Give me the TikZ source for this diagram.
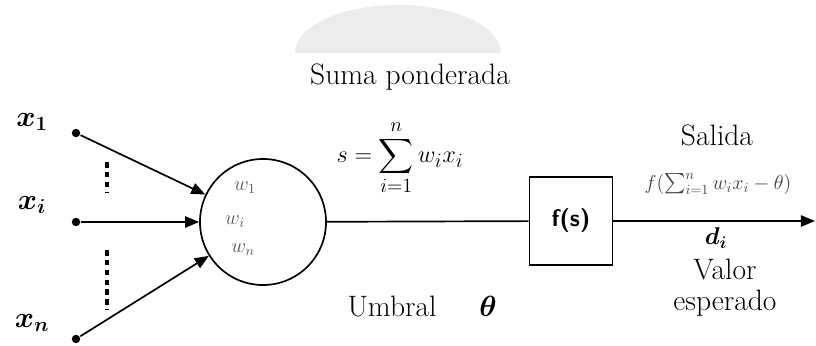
\documentclass[tikz,border=0pt]{standalone}
\usepackage{amsmath}
\usepackage{bm}
\usetikzlibrary{arrows.meta}
\tikzset{
  lbl/.style={font=\fontsize{21}{22}\selectfont, inner sep=1pt},
  inp/.style={circle, fill, inner sep=0pt, minimum size=6pt},
  xlbl/.style={font=\fontsize{21}{24}\selectfont},
  wlbl/.style={font=\fontsize{14}{16}\selectfont, text=black!65},
  dots/.style={line width=2.6pt, dash pattern=on 4pt off 3pt},
}
\begin{document}
\begin{tikzpicture}[x=0.025cm, y=-0.025cm, line width=1.2pt,
    >={Triangle[length=10pt, width=8pt]}]
  \useasboundingbox (0,0) rectangle (816,346);
  % faint dome behind the title
  \fill[gray!15] (295,53) arc[x radius=103, y radius=48, start angle=180, end angle=360] -- cycle;
  \node[lbl] (suma) at (410,77) {Suma ponderada};

  % inputs
  \node[inp] (x1) at (76,133) {};
  \node[inp] (xi) at (76,222) {};
  \node[inp] (xn) at (76,339) {};
  \node[xlbl] (lx1) at (32,122) {$\bm{x}_{\bm 1}$};
  \node[xlbl] (lxi) at (32,205) {$\bm{x}_{\bm i}$};
  \node[xlbl] (lxn) at (32,323) {$\bm{x}_{\bm n}$};
  \draw[dots] (107,162) -- (107,193);
  \draw[dots] (107,250) -- (107,310);

  % summing unit
  \node[circle, draw, minimum size=3.15cm] (sum) at (263,222) {};
  \node[wlbl] (w1) at (245,188) {$w_1$};
  \node[wlbl] (wi) at (235,222) {$w_i$};
  \node[wlbl] (wn) at (243,250) {$w_n$};
  \draw[->] (x1) -- (sum);
  \draw[->] (xi) -- (sum);
  \draw[->] (xn) -- (sum);

  \node[font=\fontsize{19}{20}\selectfont, inner sep=1pt] (eq) at (400,158)
    {$\displaystyle s=\sum_{i=1}^{n} w_i x_i$};
  \node[lbl] (umbral) at (392,306) {Umbral};
  \node[lbl] (theta) at (488,306) {$\bm{\theta}$};

  % activation
  \node[draw, minimum width=2.08cm, minimum height=2.2cm,
    font=\sffamily\bfseries\fontsize{17}{20}\selectfont] (fs) at (571,221) {f(s)};
  \draw (sum) -- (fs);
  \coordinate (out) at (815,221);
  \draw[->] (fs) -- (out);

  \node[lbl] (salida) at (717,135) {Salida};
  \node[font=\fontsize{14}{16}\selectfont, text=black!75] (fx) at (718,184)
    {$f(\sum_{i=1}^{n} w_i x_i-\theta)$};
  \node[font=\fontsize{18}{20}\selectfont, inner sep=1pt] (d) at (716,238) {$\bm{d}_{\bm i}$};
  \node[lbl, align=center] (valor) at (725,288) {Valor\\esperado};
\end{tikzpicture}
\end{document}
